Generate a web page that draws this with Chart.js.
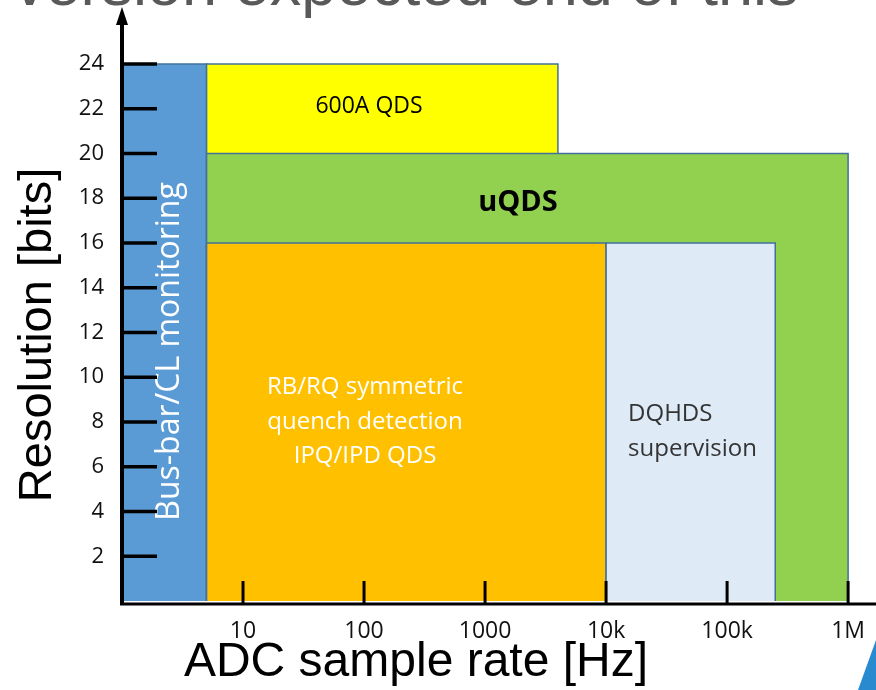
<!DOCTYPE html>
<html>
<head>
<meta charset="utf-8">
<script src="https://cdn.jsdelivr.net/npm/chart.js@4"></script>
<style>
  html, body { margin: 0; padding: 0; background: #fff; }
  #wrap { width: 876px; height: 690px; position: relative; }
</style>
</head>
<body>
<div id="wrap"><canvas id="adcChart" width="876" height="690"></canvas></div>
<script>
// Regions (ADC sample rate range in Hz, resolution in bits)
const regionNames = ["DQHDS supervision", "RB/RQ symmetric quench detection IPQ/IPD QDS", "uQDS", "600A QDS", "Bus-bar/CL monitoring"];
const rateFrom = [10000, 5, 5, 5, 1];
const rateTo = [250000, 10000, 1000000, 4000, 5];
const bitsTop = [16, 16, 20, 24, 24];
const fillColors = ["#DEEBF7", "#FFC000", "#92D050", "#FFFF00", "#5B9BD5"];

// Axis ticks
const xTickValues = [10, 100, 1000, 10000, 100000, 1000000];
const xTickLabels = ["10", "100", "1000", "10k", "100k", "1M"];
const yTickValues = [2, 4, 6, 8, 10, 12, 14, 16, 18, 20, 22, 24];

const datasets = regionNames.map((name, i) => ({
  label: name,
  data: [
    { x: rateFrom[i], y: 0 },
    { x: rateFrom[i], y: bitsTop[i] },
    { x: rateTo[i], y: bitsTop[i] },
    { x: rateTo[i], y: 0 },
  ],
  showLine: true,
  fill: "origin",
  backgroundColor: fillColors[i],
  borderColor: "#41719C",
  borderWidth: 1.5,
  pointRadius: 0,
  tension: 0,
}));

// Axes, arrows, labels inside the boxes
const decorations = {
  id: "decorations",
  afterDatasetsDraw(chart) {
    const { ctx, chartArea, scales } = chart;
    const xs = scales.x, ys = scales.y;
    const x0 = chartArea.left, y0 = chartArea.bottom;
    ctx.save();

    // box texts
    ctx.textBaseline = "middle";
    ctx.textAlign = "center";
    ctx.fillStyle = "#000";
    ctx.font = "23px 'Open Sans'";
    ctx.fillText("600A QDS", 369, ys.getPixelForValue(22.1));
    ctx.font = "bold 29px 'Open Sans'";
    ctx.fillText("uQDS", 518, ys.getPixelForValue(17.8));
    ctx.fillStyle = "#fff";
    ctx.font = "24px 'Open Sans'";
    const ox = 365;
    ctx.fillText("RB/RQ symmetric", ox, ys.getPixelForValue(9.56));
    ctx.fillText("quench detection", ox, ys.getPixelForValue(8.0));
    ctx.fillText("IPQ/IPD QDS", ox, ys.getPixelForValue(6.48));
    ctx.textAlign = "left";
    ctx.fillStyle = "#333";
    const dx = xs.getPixelForValue(rateFrom[0]) + 22;
    ctx.fillText("DQHDS", dx, ys.getPixelForValue(8.36));
    ctx.fillText("supervision", dx, ys.getPixelForValue(6.79));

    // rotated bus-bar text
    ctx.save();
    ctx.translate(170, ys.getPixelForValue(11.15));
    ctx.rotate(-Math.PI / 2);
    ctx.textAlign = "center";
    ctx.fillStyle = "#fff";
    ctx.font = "32px 'Open Sans'";
    ctx.fillText("Bus-bar/CL monitoring", 0, 0);
    ctx.restore();

    // tick marks
    ctx.strokeStyle = "#000";
    ctx.lineWidth = 3.5;
    ys.ticks.forEach(t => {
      const py = ys.getPixelForValue(t.value);
      ctx.beginPath();
      ctx.moveTo(x0, py);
      ctx.lineTo(x0 + 35, py);
      ctx.stroke();
    });
    ctx.lineWidth = 3;
    xs.ticks.forEach(t => {
      const px = xs.getPixelForValue(t.value);
      ctx.beginPath();
      ctx.moveTo(px, y0 + 2);
      ctx.lineTo(px, y0 - 20);
      ctx.stroke();
    });

    // axis lines
    ctx.lineWidth = 3;
    ctx.beginPath();
    ctx.moveTo(x0 - 2, y0 + 3);
    ctx.lineTo(chart.width, y0 + 3);
    ctx.stroke();
    ctx.lineWidth = 4;
    ctx.beginPath();
    ctx.moveTo(x0, y0 + 4);
    ctx.lineTo(x0, chartArea.top + 12);
    ctx.stroke();
    ctx.fillStyle = "#000";
    ctx.beginPath();
    ctx.moveTo(x0, chartArea.top - 1);
    ctx.lineTo(x0 - 6, chartArea.top + 17);
    ctx.lineTo(x0 + 6, chartArea.top + 17);
    ctx.closePath();
    ctx.fill();

    // axis titles
    ctx.fillStyle = "#000";
    ctx.font = "48px 'Liberation Sans'";
    ctx.textAlign = "center";
    ctx.fillText("ADC sample rate [Hz]", 416, 663);
    ctx.save();
    ctx.translate(38, 335);
    ctx.rotate(-Math.PI / 2);
    ctx.font = "47px 'Liberation Sans'";
    ctx.fillText("Resolution [bits]", 0, 0);
    ctx.restore();

    // slide remnants: cut-off heading and corner shape
    ctx.fillStyle = "#595959";
    ctx.font = "63px 'Liberation Sans'";
    ctx.textAlign = "left";
    ctx.textBaseline = "alphabetic";
    ctx.fillText("version expected end of this", 14, 5);
    ctx.fillStyle = "#2A8AD0";
    ctx.beginPath();
    ctx.moveTo(876, 640);
    ctx.lineTo(876, 690);
    ctx.lineTo(858, 690);
    ctx.closePath();
    ctx.fill();

    ctx.restore();
  },
};

new Chart(document.getElementById("adcChart"), {
  type: "scatter",
  data: { datasets },
  options: {
    responsive: false,
    animation: false,
    layout: { padding: { top: 8, right: 0, bottom: 0, left: 0 } },
    plugins: {
      legend: { display: false },
      tooltip: { enabled: false },
    },
    scales: {
      x: {
        type: "logarithmic",
        min: 1,
        max: 1.7e6,
        afterFit: s => { s.height = 89; s.paddingLeft = 0; s.paddingRight = 0; },
        afterBuildTicks: s => { s.ticks = xTickValues.map(v => ({ value: v })); },
        grid: { display: false, drawTicks: false },
        border: { display: false },
        ticks: {
          autoSkip: false,
          maxRotation: 0,
          padding: 17,
          color: "#111",
          font: { family: "'Open Sans'", size: 23 },
          callback: (v) => xTickLabels[xTickValues.indexOf(v)] ?? "",
        },
      },
      y: {
        min: 0,
        max: 26.5,
        afterFit: s => { s.width = 122; s.paddingTop = 0; s.paddingBottom = 0; },
        afterBuildTicks: s => { s.ticks = yTickValues.map(v => ({ value: v })); },
        grid: { display: false, drawTicks: false },
        border: { display: false },
        ticks: {
          padding: 18,
          color: "#111",
          font: { family: "'Open Sans'", size: 22 },
        },
      },
    },
  },
  plugins: [decorations],
});
</script>
</body>
</html>
